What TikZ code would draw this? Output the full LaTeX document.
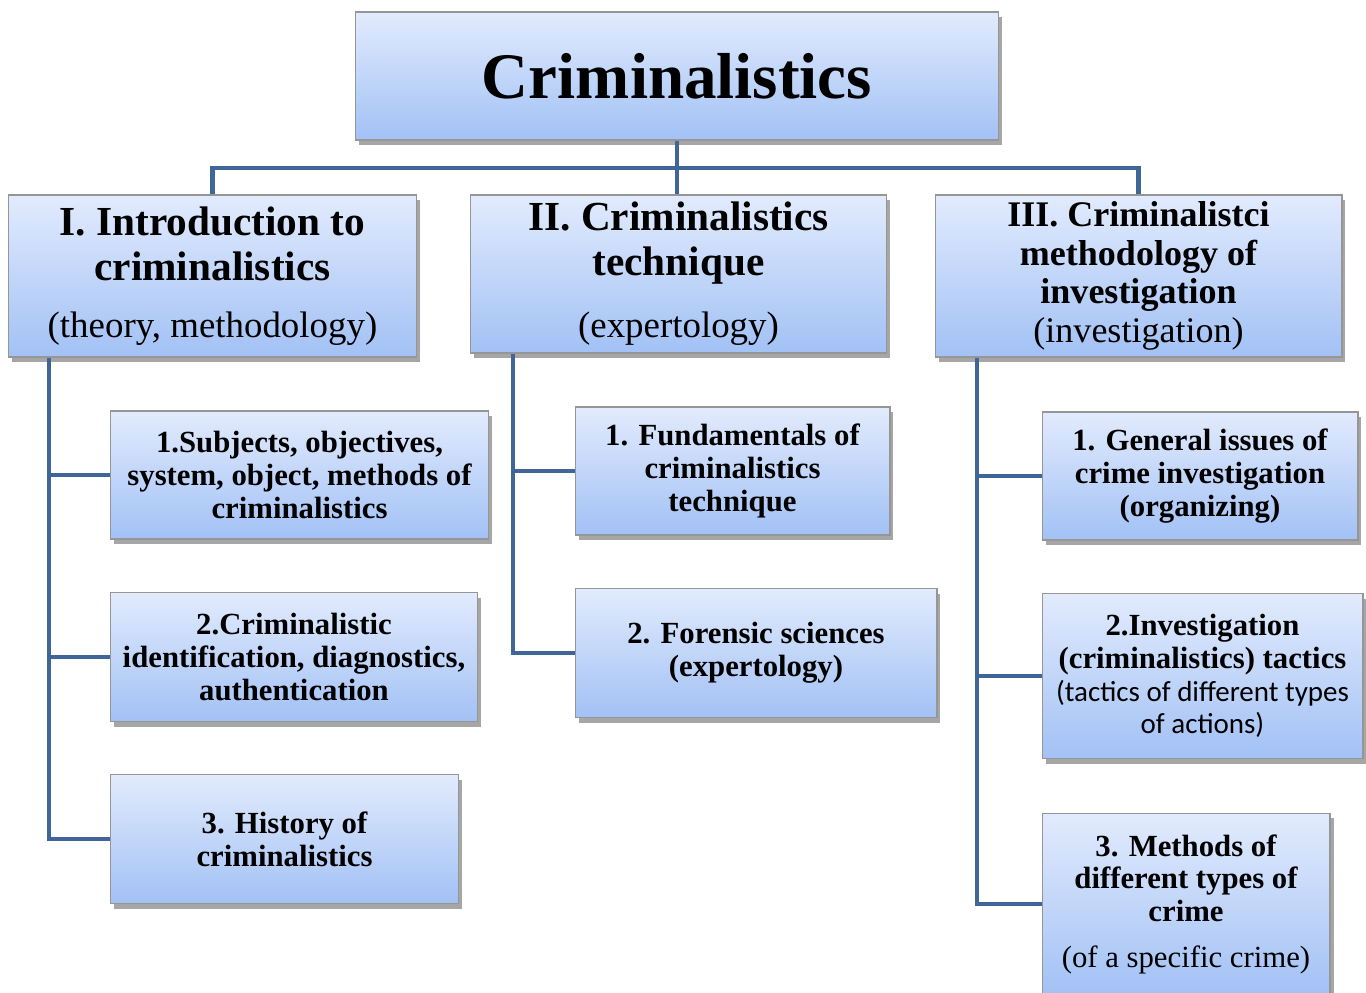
\documentclass[tikz,border=0pt]{standalone}
\usepackage{fontspec}
\setmainfont{Liberation Serif}
\newfontfamily\calfont{Carlito}
\usetikzlibrary{shadows}

\definecolor{boxtop}{RGB}{226,235,253}
\definecolor{boxbot}{RGB}{162,193,245}
\definecolor{boxline}{RGB}{150,150,150}
\definecolor{linkblue}{RGB}{64,102,153}

\begin{document}
\begin{tikzpicture}[x=0.02cm, y=-0.02cm]
% Define the node styles
\tikzstyle{box} = [draw=boxline, line width=0.6pt, top color=boxtop, bottom color=boxbot, align=center, inner sep=0pt,
  drop shadow={shadow xshift=2pt, shadow yshift=-3pt, opacity=0.35, fill=black}]
\tikzstyle{title} = [box, font=\fontsize{37}{40}\selectfont\bfseries]
\tikzstyle{head} = [box, font=\fontsize{23.5}{25.5}\selectfont\bfseries]
\tikzstyle{headsmall} = [box, font=\fontsize{20.5}{22}\selectfont\bfseries]
\tikzstyle{item} = [box, font=\fontsize{17.5}{18.7}\selectfont\bfseries]
\tikzstyle{link} = [draw=linkblue, line width=2.3pt]

\useasboundingbox (0,0) rectangle (1366,992);

% Define the nodes
\node[title, minimum width=12.88cm, minimum height=2.56cm] (top) at (677,76) {Criminalistics};

\node[head, minimum width=8.18cm, minimum height=3.24cm] (I) at (212.5,276)
  {I. Introduction to\\criminalistics\\[7pt]{\mdseries\fontsize{21}{22}\selectfont (theory, methodology)}};
\node[head, minimum width=8.34cm, minimum height=3.16cm] (II) at (678.5,274)
  {II. Criminalistics\\technique\\[10pt]{\mdseries\fontsize{21}{22}\selectfont (expertology)}};
\node[headsmall, minimum width=8.14cm, minimum height=3.24cm] (III) at (1138.5,276)
  {III. Criminalistci\\methodology of\\investigation\\{\mdseries (investigation)}};

\node[item, minimum width=7.58cm, minimum height=2.56cm] (L1) at (299.5,475)
  {1.Subjects, objectives,\\system, object, methods of\\criminalistics};
\node[item, minimum width=7.36cm, minimum height=2.58cm] (L2) at (294,657)
  {2.Criminalistic\\identification, diagnostics,\\authentication};
\node[item, minimum width=6.98cm, minimum height=2.58cm] (L3) at (284.5,839)
  {3. History of\\criminalistics};

\node[item, minimum width=6.30cm, minimum height=2.56cm] (M1) at (732.5,471)
  {1. Fundamentals of\\criminalistics\\technique};
\node[item, minimum width=7.24cm, minimum height=2.58cm] (M2) at (756,653)
  {2. Forensic sciences\\(expertology)};

\node[item, minimum width=6.32cm, minimum height=2.56cm] (R1) at (1200,476)
  {1. General issues of\\crime investigation\\(organizing)};
\node[item, minimum width=6.42cm, minimum height=3.30cm] (R2) at (1202.5,676)
  {2.Investigation\\(criminalistics) tactics\\{\calfont\mdseries\fontsize{16.5}{18}\selectfont (tactics of different types}\\{\calfont\mdseries\fontsize{16.5}{18}\selectfont of actions)}};
\node[item, minimum width=5.76cm, minimum height=3.64cm] (R3) at (1186,904)
  {3. Methods of\\different types of\\crime\\[7pt]{\mdseries (of a specific crime)}};

% Define the connections
\coordinate (bus) at (678,168);
\coordinate (L) at (49,0);
\coordinate (M) at (513,0);
\coordinate (R) at (977,0);

\draw[link] (I.north) |- (bus) -| (III.north);
\draw[link] (top.south) -- (top.south |- II.north);

\draw[link] (I.south -| L) |- (L3.west);
\draw[link] (L1.west) -- (L1.west -| L);
\draw[link] (L2.west) -- (L2.west -| L);

\draw[link] (II.south -| M) |- (M2.west);
\draw[link] (M1.west) -- (M1.west -| M);

\draw[link] (III.south -| R) |- (R3.west);
\draw[link] (R1.west) -- (R1.west -| R);
\draw[link] (R2.west) -- (R2.west -| R);

\end{tikzpicture}
\end{document}
